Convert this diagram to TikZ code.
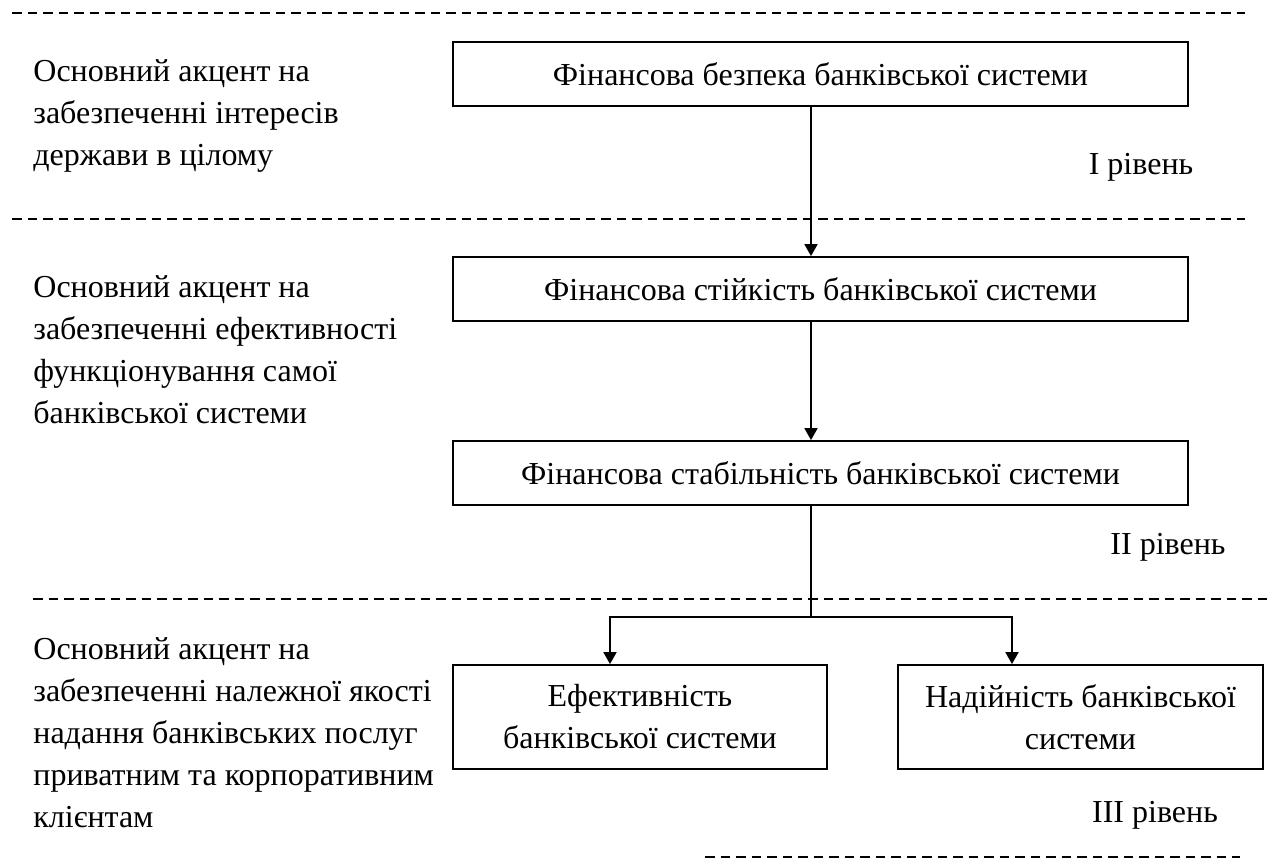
\documentclass[tikz,border=0pt]{standalone}
\usepackage{fontspec}
\setmainfont{Liberation Serif}
\usetikzlibrary{arrows.meta}
\newcommand\dgfont{\fontsize{16}{21}\selectfont}
\begin{document}
\begin{tikzpicture}[x=0.5pt,y=-0.5pt,
  box/.style={draw,line width=0.9pt,inner sep=0pt,align=center,font=\dgfont},
  note/.style={inner sep=0pt,align=left,font=\dgfont},
  lvl/.style={inner sep=0pt,font=\dgfont},
  sep/.style={line width=0.65pt,dash pattern=on 4.75pt off 3pt},
  ln/.style={line width=0.9pt},
  arr/.style={line width=0.9pt,-{Triangle[length=6pt,width=6.5pt]}}]
\useasboundingbox (0,0) rectangle (1271,863);
% separators
\draw[sep] (12,13) -- (1245,13);
\draw[sep] (12,219) -- (1245,219);
\draw[sep] (33,599) -- (1268,599);
\draw[sep] (705,857) -- (1240,857);
% boxes
\node[box,minimum width=367.5pt,minimum height=32pt] (b1) at (820.5,74) {Фінансова безпека банківської системи};
\node[box,minimum width=367.5pt,minimum height=32pt] (b2) at (820.5,289) {Фінансова стійкість банківської системи};
\node[box,minimum width=367.5pt,minimum height=32pt] (b3) at (820.5,473) {Фінансова стабільність банківської системи};
\node[box,minimum width=187pt,minimum height=52pt] (b4) at (640,717) {Ефективність\\банківської системи};
\node[box,minimum width=182.5pt,minimum height=52pt] (b5) at (1080.5,717) {Надійність банківської\\системи};
% left notes
\node[note,anchor=west] (t1) at (33,116) {Основний акцент на\\забезпеченні інтересів\\держави в цілому};
\node[note,anchor=west] (t2) at (33,350) {Основний акцент на\\забезпеченні ефективності\\функціонування самої\\банківської системи};
\node[note,anchor=west] (t3) at (33,733) {Основний акцент на\\забезпеченні належної якості\\надання банківських послуг\\приватним та корпоративним\\клієнтам};
% level labels
\node[lvl] (l1) at (1141,167) {І рівень};
\node[lvl] (l2) at (1168,547) {ІІ рівень};
\node[lvl] (l3) at (1155,815) {ІІІ рівень};
% connectors
\coordinate (spine) at (811,0);
\coordinate (jn) at (811,617);
\coordinate (jl) at (610,617);
\coordinate (jr) at (1012,617);
\draw[arr] (b1.south -| spine) -- (b2.north -| spine);
\draw[arr] (b2.south -| spine) -- (b3.north -| spine);
\draw[ln] (b3.south -| spine) -- (jn);
\draw[arr] (jn) -- (jl) -- (b4.north -| jl);
\draw[arr] (jn) -- (jr) -- (b5.north -| jr);
\end{tikzpicture}
\end{document}
